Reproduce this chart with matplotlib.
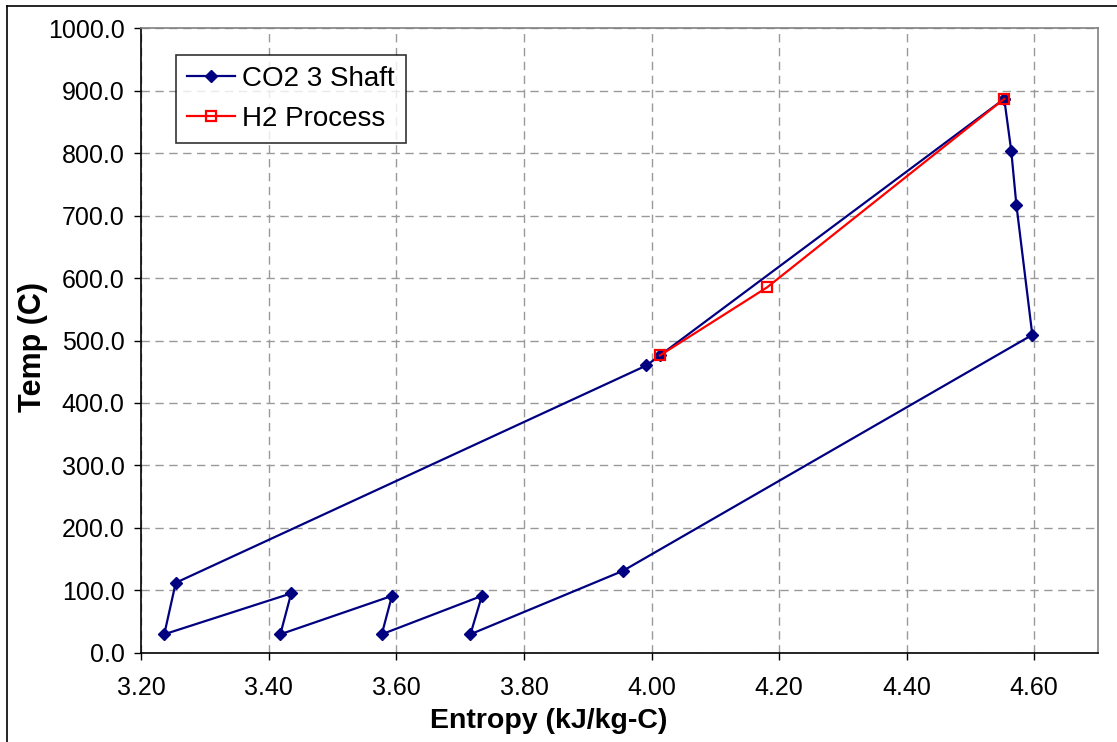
import matplotlib
matplotlib.use("Agg")
import matplotlib.pyplot as plt
from matplotlib.lines import Line2D
from matplotlib.ticker import FormatStrFormatter, MultipleLocator

plt.rcParams['font.family'] = ['Liberation Sans', 'DejaVu Sans']

# CO2 3 Shaft cycle (entropy kJ/kg-C, temperature C)
co2_entropy = [4.553, 4.564, 4.572, 4.597, 3.955, 3.716, 3.734, 3.577, 3.593,
               3.418, 3.435, 3.236, 3.254, 3.992, 4.013, 4.553]
co2_temp = [887.0, 803.5, 717.5, 509.0, 131.0, 29.5, 91.0, 29.5, 91.0,
            29.5, 95.0, 29.5, 112.0, 460.0, 476.0, 887.0]

# H2 Process
h2_entropy = [4.013, 4.181, 4.553]
h2_temp = [476.0, 585.0, 887.0]

series_names = ["CO2 3 Shaft", "H2 Process"]
x_ticks = [3.2, 3.4, 3.6, 3.8, 4.0, 4.2, 4.4, 4.6]

W, H = 1117, 742
fig = plt.figure(figsize=(W / 100, H / 100), dpi=100)
fig.patch.set_facecolor('white')

# chart-area border (left and top visible)
fig.add_artist(Line2D([7 / W, 7 / W], [0, 1 - 6 / H], transform=fig.transFigure,
                      color='black', lw=1.2))
fig.add_artist(Line2D([7 / W, 1], [1 - 6 / H, 1 - 6 / H], transform=fig.transFigure,
                      color='black', lw=1.2))

ax = fig.add_axes([141.3 / W, 1 - 652.7 / H, (1098 - 141.3) / W, (652.7 - 28.3) / H])

ax.plot(co2_entropy, co2_temp, color='#000080', lw=1.6, marker='D', ms=6,
        mfc='#000080', mec='#000080', label=series_names[0], zorder=3)
ax.plot(h2_entropy, h2_temp, color='#FF0000', lw=1.6, marker='s', ms=7,
        mfc='none', mec='#FF0000', mew=1.6, label=series_names[1], zorder=4)

ax.set_xlim(3.20, 4.70)
ax.set_ylim(0, 1000)
ax.set_xticks(x_ticks)
ax.yaxis.set_major_locator(MultipleLocator(100))
ax.xaxis.set_major_formatter(FormatStrFormatter('%.2f'))
ax.yaxis.set_major_formatter(FormatStrFormatter('%.1f'))

ax.grid(True, color='#999999', lw=1.0, linestyle=(0, (6, 4)))
ax.set_axisbelow(True)
ax.tick_params(direction='out', length=5, width=1, labelsize=18, colors='black')
ax.tick_params(axis='x', pad=12)
ax.tick_params(axis='y', pad=7)

for s in ['left', 'bottom']:
    ax.spines[s].set_color('black')
    ax.spines[s].set_linewidth(1.2)
for s in ['top', 'right']:
    ax.spines[s].set_color('#808080')
    ax.spines[s].set_linewidth(1.2)

fig.text(549 / W, 1 - 728 / H, "Entropy (kJ/kg-C)", ha='center', va='baseline',
         fontsize=20.5, fontweight='bold')
fig.text(33.5 / W, 1 - 347 / H, "Temp (C)", ha='center', va='center',
         rotation=90, fontsize=22, fontweight='bold')

leg = ax.legend(loc='upper left', bbox_to_anchor=(175.7 / W, 1 - 54.7 / H),
                bbox_transform=fig.transFigure, fontsize=20, frameon=True,
                fancybox=False, shadow=False, handlelength=1.75, handletextpad=0.25,
                labelspacing=0.5, borderpad=0.4, borderaxespad=0)
leg.get_frame().set_edgecolor('black')
leg.get_frame().set_linewidth(1.2)

fig.savefig('out.png', dpi=100)
